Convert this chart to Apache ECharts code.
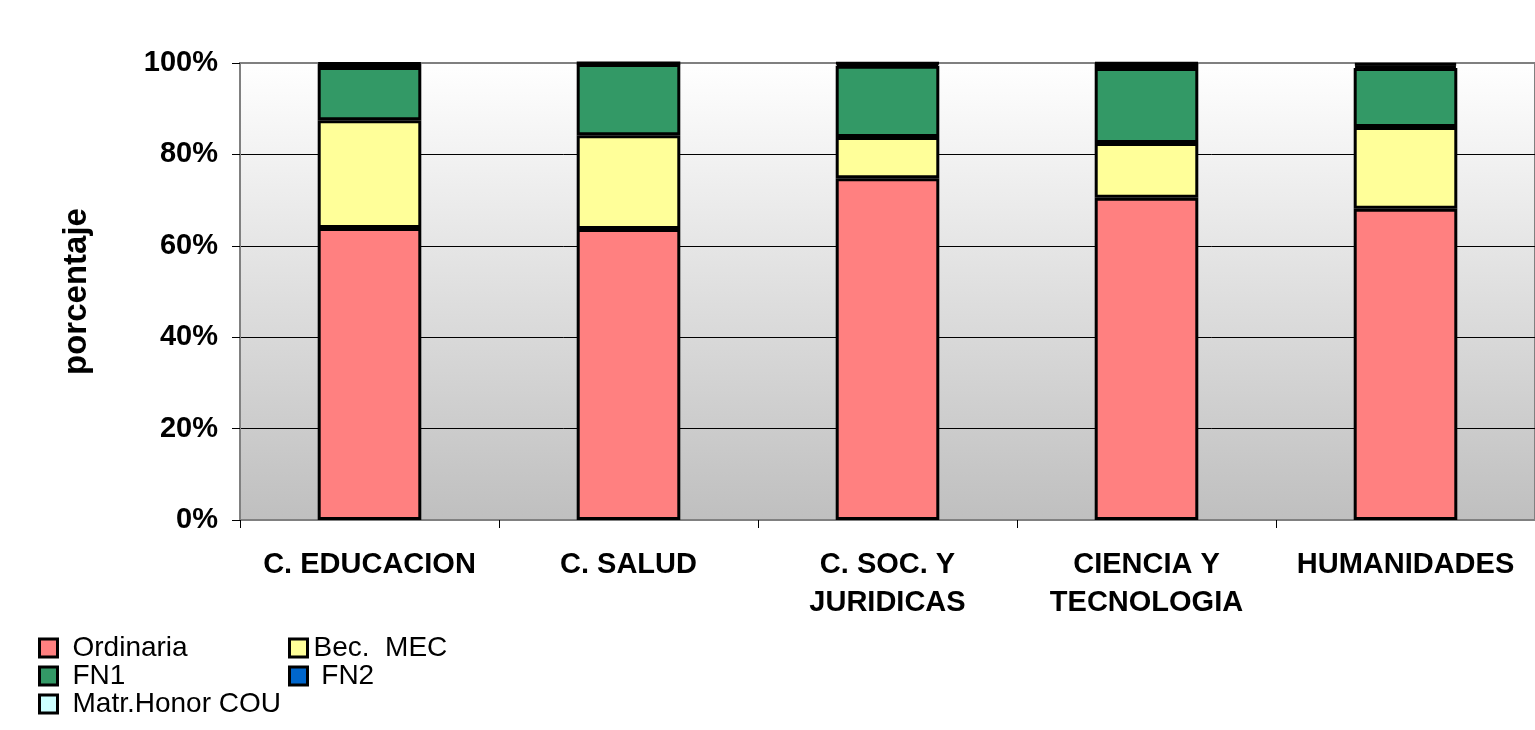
<!DOCTYPE html>
<html>
<head>
<meta charset="utf-8">
<script src="https://cdn.jsdelivr.net/npm/echarts@6/dist/echarts.min.js"></script>
<style>
html,body{margin:0;padding:0;background:#ffffff;}
#chart{width:1535px;height:730px;}
</style>
</head>
<body>
<div id="chart"></div>
<script>
/**
 * =====================================================
 * Datos (porcentaje por rama)
 * =====================================================
 */

const categories=[
    "C. EDUCACION",
    "C. SALUD",
    "C. SOC. Y\nJURIDICAS",
    "CIENCIA Y\nTECNOLOGIA",
    "HUMANIDADES"
];

const ordinaria=[63.9,63.7,74.8,70.5,68.1];
const becMec=[23.6,20.5,9.0,12.0,17.9];
const fn1=[11.6,15.6,15.6,16.4,12.9];
const fn2=[0.7,0.2,0.5,1.0,0.6];
const matrHonor=[0.2,0,0.1,0.1,0.5];

const yTicks=[0,20,40,60,80,100];

/**
 * =====================================================
 * Series
 * =====================================================
 */

const seriesDefs=[
    {name:"Ordinaria",data:ordinaria,color:"#FF8080"},
    {name:"Bec.  MEC",data:becMec,color:"#FFFF99"},
    {name:"FN1",data:fn1,color:"#339966"},
    {name:" FN2",data:fn2,color:"#0066CC"},
    {name:"Matr.Honor COU",data:matrHonor,color:"#CCFFFF"}
];

const series=seriesDefs.map(s=>({
    name:s.name,
    type:"bar",
    stack:"total",
    barWidth:"40%",
    data:s.data,
    itemStyle:{
        color:s.color,
        borderColor:"#000000",
        borderWidth:3
    },
    emphasis:{disabled:true}
}));

const legendBase={
    orient:"vertical",
    icon:"rect",
    itemWidth:18,
    itemHeight:18,
    itemGap:0,
    padding:0,
    top:634,
    itemStyle:{
        borderColor:"#000000",
        borderWidth:3
    },
    textStyle:{
        fontFamily:"Liberation Sans, Arial, sans-serif",
        fontSize:28,
        lineHeight:27,
        color:"#000000"
    }
};

const chart=echarts.init(
    document.getElementById("chart")
);

chart.setOption({
    backgroundColor:"#ffffff",
    animation:false,
    grid:{
        left:240,
        right:0,
        top:63,
        bottom:210,
        show:true,
        backgroundColor:{
            type:"linear",
            x:0,y:0,x2:0,y2:1,
            colorStops:[
                {offset:0,color:"#ffffff"},
                {offset:1,color:"#bfbfbf"}
            ]
        },
        borderColor:"#808080",
        borderWidth:2
    },
    legend:[
        Object.assign({},legendBase,{
            left:38,
            data:["Ordinaria","FN1","Matr.Honor COU"],
            textStyle:Object.assign({},legendBase.textStyle,{padding:[0,0,0,10]})
        }),
        Object.assign({},legendBase,{
            left:288,
            data:["Bec.  MEC"," FN2"],
            textStyle:Object.assign({},legendBase.textStyle,{padding:[0,0,0,1]})
        })
    ],
    xAxis:{
        type:"category",
        data:categories,
        axisLine:{lineStyle:{color:"#808080",width:2}},
        axisTick:{
            show:true,
            length:8,
            lineStyle:{color:"#000000",width:1}
        },
        axisLabel:{
            margin:26,
            fontFamily:"Liberation Sans, Arial, sans-serif",
            fontWeight:"bold",
            fontSize:29,
            lineHeight:38,
            color:"#000000",
            interval:0
        }
    },
    yAxis:{
        type:"value",
        min:yTicks[0],
        max:yTicks[yTicks.length-1],
        interval:20,
        name:"porcentaje",
        nameLocation:"middle",
        nameGap:147,
        nameRotate:90,
        nameTextStyle:{
            fontFamily:"Liberation Sans, Arial, sans-serif",
            fontWeight:"bold",
            fontSize:33,
            color:"#000000"
        },
        axisLine:{show:true,lineStyle:{color:"#808080",width:2}},
        axisTick:{
            show:true,
            length:8,
            lineStyle:{color:"#000000",width:1}
        },
        axisLabel:{
            margin:22,
            formatter:"{value}%",
            fontFamily:"Liberation Sans, Arial, sans-serif",
            fontWeight:"bold",
            fontSize:29,
            color:"#000000"
        },
        splitLine:{
            show:true,
            lineStyle:{
                color:["#808080","#000000","#000000","#000000","#000000","#808080"],
                width:1
            }
        }
    },
    series
});
</script>
</body>
</html>
